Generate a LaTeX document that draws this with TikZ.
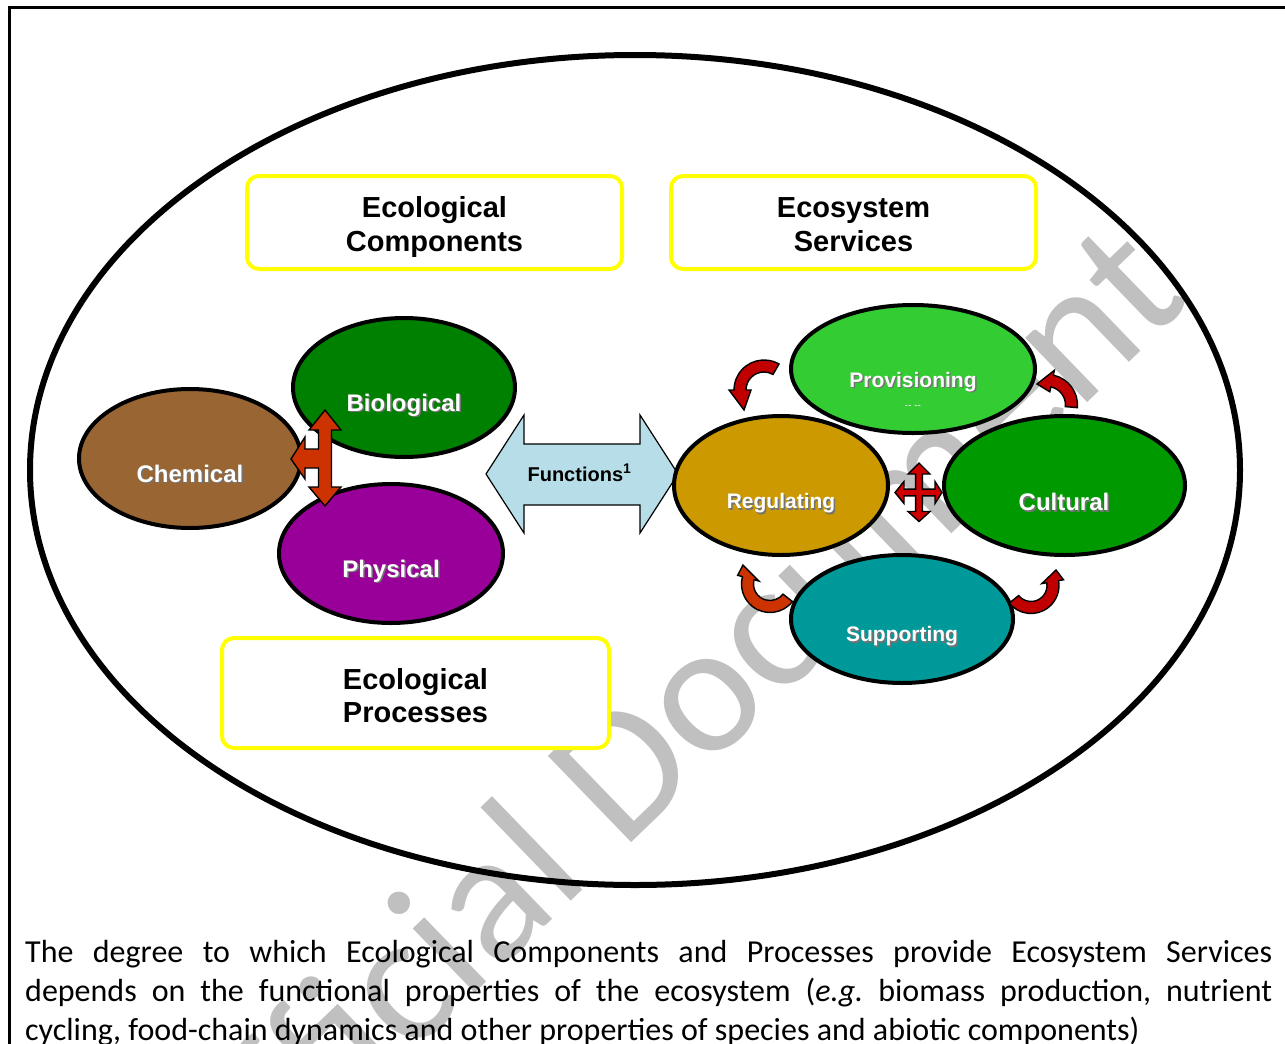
\documentclass[tikz,border=0pt]{standalone}
\usepackage{fontspec}
\setmainfont{Liberation Sans}
\newfontfamily\capfont{Carlito}
\usetikzlibrary{shapes.geometric}

\definecolor{wmgray}{HTML}{C0C0C0}
\definecolor{boxyellow}{HTML}{FFFF00}
\definecolor{biocol}{HTML}{008000}
\definecolor{chemcol}{HTML}{996633}
\definecolor{physcol}{HTML}{990099}
\definecolor{provcol}{HTML}{33CC33}
\definecolor{regcol}{HTML}{CC9900}
\definecolor{cultcol}{HTML}{009900}
\definecolor{suppcol}{HTML}{009999}
\definecolor{funccol}{HTML}{B7DEE8}
\definecolor{rustred}{HTML}{CC3300}
\definecolor{darkred}{HTML}{C00000}
\definecolor{brightred}{HTML}{D00000}

% white label with a soft drop shadow
\newcommand\shtext[1]{\rlap{\kern1.5pt\raisebox{-1.5pt}{\color{black!55}#1}}#1}

% curved arrow along a circle: centre (#1,#2), radius #3, tail angle #4,
% head-base angle #5, tip point (#6,#7), fill colour #8
\newcommand\bentarrow[8]{%
  \begin{scope}[shift={(#1,#2)}]
    \filldraw[arrowedge, fill=#8]
      (#4:{#3+6}) arc[start angle=#4, end angle=#5, radius={#3+6}]
      -- (#5:{#3+11}) -- ({#6-#1},{#7-#2}) -- (#5:{#3-11}) -- (#5:{#3-6})
      arc[start angle=#5, end angle=#4, radius={#3-6}] -- cycle;
  \end{scope}}

\tikzset{
  wmark/.style={text=wmgray, font=\capfont\fontsize{187}{187}\selectfont, inner sep=0pt},
  blob/.style={ellipse, draw=black, line width=4pt, inner sep=0pt},
  bigtext/.style={text=white, font=\bfseries\fontsize{24}{28}\selectfont, anchor=base, inner sep=0pt},
  smalltext/.style={text=white, font=\bfseries\fontsize{21}{25}\selectfont, anchor=base, inner sep=0pt},
  titlebox/.style={rectangle, draw=boxyellow, line width=4pt, rounded corners=12pt, fill=white,
    align=center, font=\bfseries\fontsize{29}{34}\selectfont, inner sep=0pt},
  arrowedge/.style={draw=black, line width=1.4pt, line join=miter},
  captionline/.style={font=\capfont\fontsize{32}{39}\selectfont\frenchspacing, anchor=base west, inner sep=0pt},
}

\begin{document}
\begin{tikzpicture}[x=1pt, y=-1pt]
\useasboundingbox (0,0) rectangle (1285,1044);

% background watermark
\node[wmark, rotate=44, anchor=base] (wm) at (702,775) {Official Document};

% page frame
\coordinate (fbl) at (9,1044);
\coordinate (ftl) at (9,7);
\coordinate (ftr) at (1285,7);
\draw[line width=3pt] (fbl) -- (ftl) -- (ftr);

% ecosystem outline
\node[ellipse, draw=black, line width=6pt, minimum width=1210pt, minimum height=830pt, inner sep=0pt] (eco) at (635,470) {};

% heading boxes
\node[titlebox, minimum width=375pt, minimum height=93pt] (comp) at (434.5,222.5) {\rule{0pt}{30pt}Ecological\\Components};
\node[titlebox, minimum width=365pt, minimum height=93pt] (serv) at (853.5,222.5) {\rule{0pt}{24pt}Ecosystem\\Services};
\node[titlebox, minimum width=387pt, minimum height=110pt, font=\bfseries\fontsize{29}{33}\selectfont] (proc) at (415.5,693) {\rule{0pt}{26pt}Ecological\\Processes};

% ecological components
\node[blob, fill=chemcol, minimum width=222pt, minimum height=139pt] (chem) at (190,458.5) {};
\node[blob, fill=biocol,  minimum width=222pt, minimum height=139pt] (bio)  at (404,387.5) {};
\node[blob, fill=physcol, minimum width=224pt, minimum height=139pt] (phys) at (391,553.5) {};

% three-way arrow between the components
\filldraw[arrowedge, fill=rustred]
  (325,410) -- (341,430) -- (331.5,430) -- (331.5,487) -- (341,487) -- (325,506)
  -- (309,487) -- (318.5,487) -- (318.5,468) -- (305,468) -- (305,479) -- (291,459)
  -- (305,437) -- (305,449) -- (318.5,449) -- (318.5,430) -- (309,430) -- cycle;

% functions double arrow
\filldraw[draw=black, line width=1.2pt, fill=funccol]
  (486,474) -- (524,415) -- (524,444) -- (640,444) -- (640,415) -- (678,474)
  -- (640,533) -- (640,505) -- (524,505) -- (524,533) -- cycle;
\node[font=\bfseries\fontsize{20}{24}\selectfont, anchor=base, inner sep=0pt] (func) at (579.5,481) {Functions\textsuperscript{1}};

% ecosystem services
\node[blob, fill=regcol,  minimum width=214pt, minimum height=139pt] (reg)  at (781,485.5) {};
\node[blob, fill=cultcol, minimum width=241pt, minimum height=139pt] (cult) at (1064.5,485.5) {};
\node[blob, fill=provcol, minimum width=244pt, minimum height=128pt] (prov) at (913,369) {};
\node[blob, fill=suppcol, minimum width=222pt, minimum height=128pt] (supp) at (902,619) {};

% four-way arrow between regulating and cultural
\begin{scope}[shift={(919,492.5)}]
  \filldraw[arrowedge, fill=brightred]
    (0,-29.5) -- (11,-18.5) -- (3.4,-18.5) -- (3.4,-3.4) -- (16,-3.4) -- (16,-11) -- (23,0)
    -- (16,11) -- (16,3.4) -- (3.4,3.4) -- (3.4,19) -- (11,19) -- (0,29) -- (-11,19)
    -- (-3.4,19) -- (-3.4,3.4) -- (-15,3.4) -- (-15,11) -- (-24,0) -- (-15,-11)
    -- (-15,-3.4) -- (-3.4,-3.4) -- (-3.4,-18.5) -- (-11,-18.5) -- cycle;
\end{scope}

% circulating arrows round the services
\bentarrow{764}{390}{24}{300}{180}{744}{410}{darkred}
\bentarrow{1047}{405}{24.5}{5}{-78}{1037}{384}{darkred}
\bentarrow{770}{584}{22.5}{38}{195}{743}{565}{rustred}
\bentarrow{1031}{585.5}{22}{141}{-10}{1056}{570}{darkred}

% labels
\node[bigtext] (biolbl)  at (404,411) {\shtext{Biological}};
\node[bigtext] (chemlbl) at (190,482) {\shtext{Chemical}};
\node[bigtext] (physlbl) at (391,577) {\shtext{Physical}};
\node[smalltext] (provlbl) at (913,387) {\shtext{Provisioning}};
\node[text=white, font=\fontsize{10}{12}\selectfont, anchor=base, inner sep=0pt] (provdash) at (913,408) {-{}- -{}-};
\node[smalltext] (reglbl)  at (781,508.5) {\shtext{Regulating}};
\node[bigtext] (cultlbl) at (1064,510.5) {\shtext{Cultural}};
\node[smalltext] (supplbl) at (902,641.5) {\shtext{Supporting}};

% caption
\node[captionline] (cap1) at (25,962) {\makebox[1247pt][s]{The degree to which Ecological Components and Processes provide Ecosystem Services}};
\node[captionline] (cap2) at (25,1001) {\makebox[1247pt][s]{depends on the functional properties of the ecosystem (\textit{e.g.} biomass production, nutrient}};
\node[captionline] (cap3) at (25,1040) {cycling, food-chain dynamics and other properties of species and abiotic components)};
\end{tikzpicture}
\end{document}
